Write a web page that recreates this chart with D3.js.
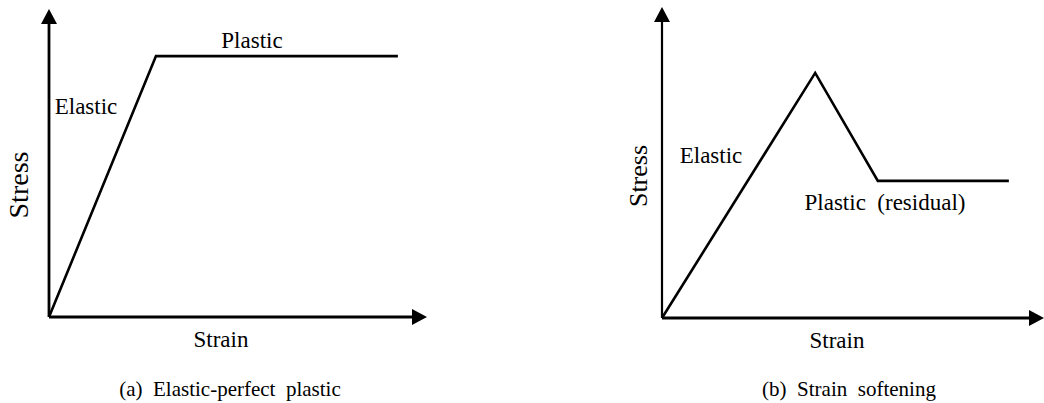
<!DOCTYPE html>
<html>
<head>
<meta charset="utf-8">
<script src="https://cdn.jsdelivr.net/npm/d3@7"></script>
<style>
  html, body { margin: 0; padding: 0; background: #fff; }
  svg text { font-family: "Liberation Serif", "Times New Roman", serif; fill: #000; white-space: pre; }
</style>
</head>
<body>
<svg id="chart" width="1044" height="403"></svg>
<script>
// ---- Data (strain / stress in relative units, 0-100 along each axis) ----
const strainA = [0, 28.3, 92.3];
const stressA = [0, 84.7, 84.7];
const strainB = [0, 40.1, 56.5, 90.8];
const stressB = [0, 78.8, 44.1, 44.1];

const axisLabels = ["Strain", "Stress"];
const curveLabelsA = ["Elastic", "Plastic"];
const curveLabelsB = ["Elastic", "Plastic  (residual)"];
const captions = ["(a)  Elastic-perfect  plastic", "(b)  Strain  softening"];

const svg = d3.select("#chart");

function drawPanel(cfg) {
  const x = d3.scaleLinear().domain([0, 100]).range([cfg.x0, cfg.x1]);
  const y = d3.scaleLinear().domain([0, 100]).range([cfg.y0, cfg.y1]);
  const g = svg.append("g");
  const ah = 15, aw = 8;

  // axes lines
  g.append("line").attr("x1", x(0)).attr("y1", y(0)).attr("x2", x(100) - ah + 2).attr("y2", y(0))
    .attr("stroke", "#000").attr("stroke-width", cfg.axisW);
  g.append("line").attr("x1", x(0)).attr("y1", y(0)).attr("x2", x(0)).attr("y2", y(100) + ah - 2)
    .attr("stroke", "#000").attr("stroke-width", cfg.axisWy);
  // arrowheads
  g.append("path")
    .attr("d", `M${x(100)},${y(0)} L${x(100) - ah},${y(0) - aw} L${x(100) - ah},${y(0) + aw} Z`)
    .attr("fill", "#000");
  g.append("path")
    .attr("d", `M${x(0)},${y(100)} L${x(0) - aw},${y(100) + ah} L${x(0) + aw},${y(100) + ah} Z`)
    .attr("fill", "#000");

  // curve
  const pts = cfg.strain.map((s, i) => [s, cfg.stress[i]]);
  g.append("path")
    .attr("d", d3.line().x(d => x(d[0])).y(d => y(d[1]))(pts))
    .attr("fill", "none").attr("stroke", "#000").attr("stroke-width", 2.6)
    .attr("stroke-linejoin", "miter");

  // texts
  g.append("text").attr("x", cfg.strainLbl[0]).attr("y", cfg.strainLbl[1])
    .attr("text-anchor", "middle").attr("font-size", 23).text(axisLabels[0]);
  g.append("text")
    .attr("transform", `translate(${cfg.stressLbl[0]},${cfg.stressLbl[1]}) rotate(-90)`)
    .attr("text-anchor", "middle").attr("font-size", cfg.stressSize).text(axisLabels[1]);
  cfg.labels.forEach((t, i) => {
    g.append("text").attr("x", cfg.labelPos[i][0]).attr("y", cfg.labelPos[i][1])
      .attr("text-anchor", "middle").attr("font-size", 23).text(t);
  });
  g.append("text").attr("x", cfg.capPos[0]).attr("y", cfg.capPos[1])
    .attr("text-anchor", "middle").attr("font-size", 21).text(cfg.caption);
}

drawPanel({
  x0: 49, x1: 427, y0: 317, y1: 9, axisW: 2.8, axisWy: 2.8,
  strain: strainA, stress: stressA,
  labels: curveLabelsA, labelPos: [[86, 114], [252, 48]],
  strainLbl: [221, 347], stressLbl: [28, 185], stressSize: 28,
  caption: captions[0], capPos: [230, 396]
});

drawPanel({
  x0: 662, x1: 1044, y0: 318, y1: 7, axisW: 2.8, axisWy: 2.2,
  strain: strainB, stress: stressB,
  labels: curveLabelsB, labelPos: [[711, 163], [885, 210]],
  strainLbl: [837, 348], stressLbl: [647, 176], stressSize: 26,
  caption: captions[1], capPos: [849, 396]
});
</script>
</body>
</html>
